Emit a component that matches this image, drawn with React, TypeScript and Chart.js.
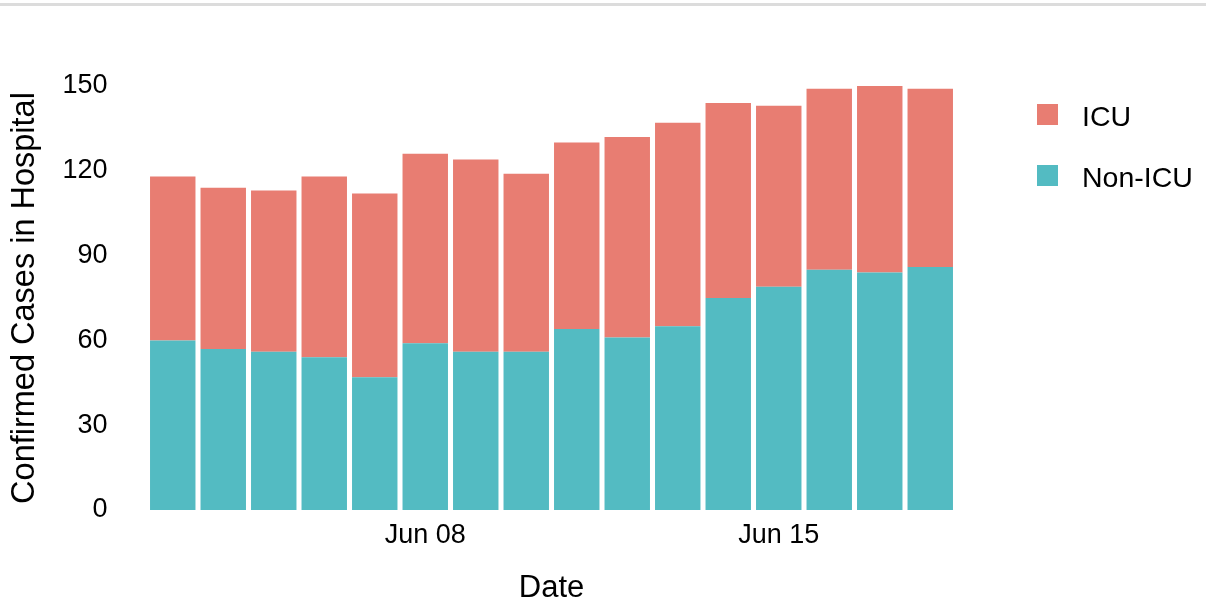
import React, { useEffect, useRef } from "react";
import { Chart, registerables } from "chart.js";

Chart.register(...registerables);

const categories = [
  "Jun 03", "Jun 04", "Jun 05", "Jun 06", "Jun 07", "Jun 08", "Jun 09", "Jun 10",
  "Jun 11", "Jun 12", "Jun 13", "Jun 14", "Jun 15", "Jun 16", "Jun 17", "Jun 18",
];
const nonIcu = [60, 57, 56, 54, 47, 59, 56, 56, 64, 61, 65, 75, 79, 85, 84, 86];
const icu = [58, 57, 57, 64, 65, 67, 68, 63, 66, 71, 72, 69, 64, 64, 66, 63];
const shownDateLabels = ["Jun 08", "Jun 15"];
const yTicks = [0, 30, 60, 90, 120, 150];

const ICU_COLOR = "#E87D72";
const NON_ICU_COLOR = "#53BBC2";
const FONT = "'Liberation Sans', Arial, Helvetica, sans-serif";

export default function App() {
  const ref = useRef<HTMLCanvasElement | null>(null);

  useEffect(() => {
    if (!ref.current) return;
    const chart = new Chart(ref.current, {
      type: "bar",
      data: {
        labels: categories,
        datasets: [
          {
            label: "Non-ICU",
            data: nonIcu,
            backgroundColor: NON_ICU_COLOR,
            borderWidth: 0,
            barPercentage: 0.9,
            categoryPercentage: 1,
          },
          {
            label: "ICU",
            data: icu,
            backgroundColor: ICU_COLOR,
            borderWidth: 0,
            barPercentage: 0.9,
            categoryPercentage: 1,
          },
        ],
      },
      options: {
        animation: false,
        responsive: false,
        devicePixelRatio: 1,
        layout: { padding: { top: 64.8, right: 250.5, bottom: 0, left: 0 } },
        plugins: {
          legend: { display: false },
          tooltip: { enabled: false },
        },
        scales: {
          x: {
            stacked: true,
            grid: { display: false },
            border: { display: false },
            ticks: {
              autoSkip: false,
              maxRotation: 0,
              mirror: true,
              padding: -21,
              color: "#000",
              font: { family: FONT, size: 27 },
              callback: function (this: any, value: any) {
                const lbl = categories[value as number];
                return shownDateLabels.includes(lbl) ? lbl : "";
              },
            },
            title: {
              display: true,
              text: "Date",
              color: "#000",
              font: { family: FONT, size: 31 },
              padding: { top: 0, bottom: 1 },
            },
            afterFit: (scale: any) => {
              scale.height = 76.8;
            },
          },
          y: {
            stacked: true,
            min: -7.5,
            max: 157.5,
            grid: { display: false },
            border: { display: false },
            afterBuildTicks: (scale: any) => {
              scale.ticks = yTicks.map((v) => ({ value: v }));
            },
            ticks: {
              padding: 32,
              color: "#000",
              font: { family: FONT, size: 27 },
            },
            title: {
              display: true,
              text: "Confirmed Cases in Hospital",
              color: "#000",
              font: { family: FONT, size: 32.5 },
              padding: { top: 6, bottom: 0 },
            },
            afterFit: (scale: any) => {
              scale.width = 147.5;
            },
          },
        },
      },
    });
    return () => chart.destroy();
  }, []);

  const legendItems = [
    { label: "ICU", color: ICU_COLOR, top: 104 },
    { label: "Non-ICU", color: NON_ICU_COLOR, top: 165 },
  ];

  return (
    <div
      style={{
        position: "fixed",
        left: 0,
        top: 0,
        width: 1206,
        height: 608,
        background: "#fff",
        overflow: "hidden",
      }}
    >
      <div
        style={{
          position: "absolute",
          left: 0,
          top: 3,
          width: 1206,
          height: 0,
          borderTop: "3px solid #dcdcdc",
        }}
      />
      <canvas ref={ref} width={1206} height={608} style={{ position: "absolute", left: 0, top: 0 }} />
      {legendItems.map((it) => (
        <div key={it.label} style={{ position: "absolute", left: 1037, top: it.top, height: 22 }}>
          <div
            style={{
              position: "absolute",
              left: 0,
              top: 0,
              width: 21,
              height: 21,
              background: it.color,
            }}
          />
          <div
            style={{
              position: "absolute",
              left: 45,
              top: -6,
              fontFamily: FONT,
              fontSize: 28.5,
              lineHeight: "36px",
              whiteSpace: "nowrap",
              color: "#000",
            }}
          >
            {it.label}
          </div>
        </div>
      ))}
    </div>
  );
}
